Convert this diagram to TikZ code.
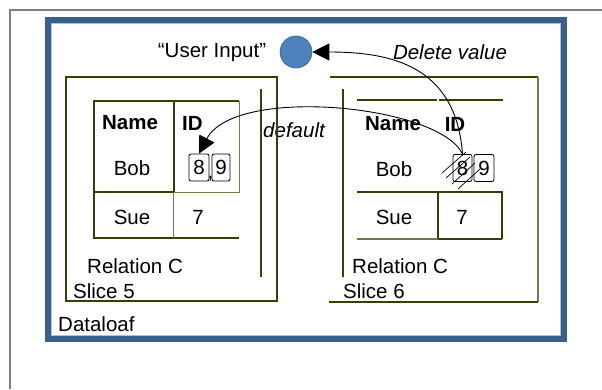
\documentclass[tikz,border=0pt]{standalone}
\usepackage{fontspec}
\setmainfont{Liberation Sans}
\usetikzlibrary{arrows.meta}
\definecolor{frameblue}{RGB}{58,95,139}
\definecolor{slicegreen}{RGB}{52,64,4}
\definecolor{lightgreen}{RGB}{110,125,70}
\definecolor{circblue}{RGB}{79,129,189}
\definecolor{framegray}{RGB}{128,128,128}
\tikzset{
  txt/.style={inner sep=0pt, font=\fontsize{20.5}{24}\selectfont},
  lbl/.style={txt, anchor=west},
  hdr/.style={txt, font=\fontsize{20.5}{24}\selectfont\bfseries},
  itl/.style={txt, font=\fontsize{20.5}{24}\selectfont\itshape},
  valbox/.style={draw=black, line width=0.8pt, rounded corners=2pt, minimum width=#1, minimum height=27pt, inner sep=0pt, font=\fontsize{20.5}{24}\selectfont},
  sline/.style={draw=slicegreen, line width=2pt},
  tline/.style={draw=slicegreen, line width=2pt},
  thin/.style={draw=lightgreen, line width=1pt},
  bigarrow/.style={-{Triangle[length=17pt,width=17pt]}, line width=0.9pt},
}
\begin{document}
\begin{tikzpicture}[x=1pt,y=-1pt]
\useasboundingbox (0,0) rectangle (602,389);
% outer gray frame
\draw[framegray, line width=1.5pt] (10,389) -- (10,10) -- (602,10);
% Dataloaf frame
\draw[frameblue, line width=6pt] (48,20) rectangle (564,339);
\draw[frameblue!40, line width=0.8pt] (51.5,23.5) rectangle (560.5,335.5);
\node[lbl] (dl) at (58,324) {Dataloaf};

% top
\node[txt] (ui) at (212,53) {“User Input”};
\node[circle, fill=circblue, draw=frameblue, line width=0.6pt, minimum size=32pt, inner sep=0pt] (circ) at (296,52) {};
\node[itl] (dv) at (450,52) {Delete value};
\node[itl] (df) at (294,130) {default};

% Slice 5
\draw[sline] (66,77) rectangle (277,301);
\draw[sline] (261,89) -- (261,277);
\draw[tline] (174,192) -- (94,192) -- (94,101) -- (239,101);
\draw[tline, line width=2.8pt] (174,101) -- (174,192);
\draw[thin] (239,101) -- (239,192) -- (174,192);
\draw[tline] (94,192) -- (94,238) -- (239,238);
\draw[thin] (173,192) -- (173,238);
\node[hdr] (n5) at (130,123) {Name};
\node[hdr, anchor=west] (id5) at (182,123) {ID};
\node[txt] (b5) at (132,168) {Bob};
\node[valbox=20pt] (d8a) at (199,167.5) {8};
\node[valbox=18pt] (d9a) at (221,167.5) {9};
\node[txt, anchor=south] at (210.5,181) {,};
\node[txt] (s5) at (132,217) {Sue};
\node[txt] (v5) at (198,217) {7};
\node[lbl] (r5) at (87,266) {Relation C};
\node[lbl] (sl5) at (73,291) {Slice 5};

% Slice 6
\draw[sline] (330,77) -- (538,77);
\draw[thin, line width=2pt] (538,77) -- (538,302);
\draw[sline] (538,302) -- (329,302);
\draw[sline] (343,89) -- (343,277);
\draw[tline] (357,100) -- (437,100);
\draw[tline] (439,100) -- (503,100);
\draw[tline] (357,192) -- (503,192);
\draw[tline] (438,192) -- (438,239);
\draw[tline] (502,192) -- (502,239);
\draw[thin, line width=1.5pt] (357,239) -- (438,239);
\draw[tline] (438,239) -- (502,239);
\node[hdr] (n6) at (393,124) {Name};
\node[hdr] (id6) at (455,124) {ID};
\node[txt] (b6) at (394,169) {Bob};
\node[valbox=19pt] (e8b) at (462.5,168) {8};
\node[valbox=20pt] (e9b) at (484,168) {9};
\node[txt] (s6) at (394,217) {Sue};
\node[txt] (v6) at (462,217) {7};
\node[lbl] (r6) at (352,266) {Relation C};
\node[lbl] (sl6) at (343,291) {Slice 6};

% hatching over deleted value
\draw[line width=0.7pt] (442,173) -- (466,152);
\draw[line width=0.7pt] (446,178) -- (470,157);
\draw[line width=0.7pt] (452,184) -- (475,163);
\draw[line width=0.7pt] (458,189) -- (480,169);

% arrows
\draw[bigarrow] (e8b.north) .. controls (456,65) and (390,52) .. (circ.east);
\draw[bigarrow] (e8b.north) .. controls (440,105) and (235,85) .. (d8a.north);
\end{tikzpicture}
\end{document}
